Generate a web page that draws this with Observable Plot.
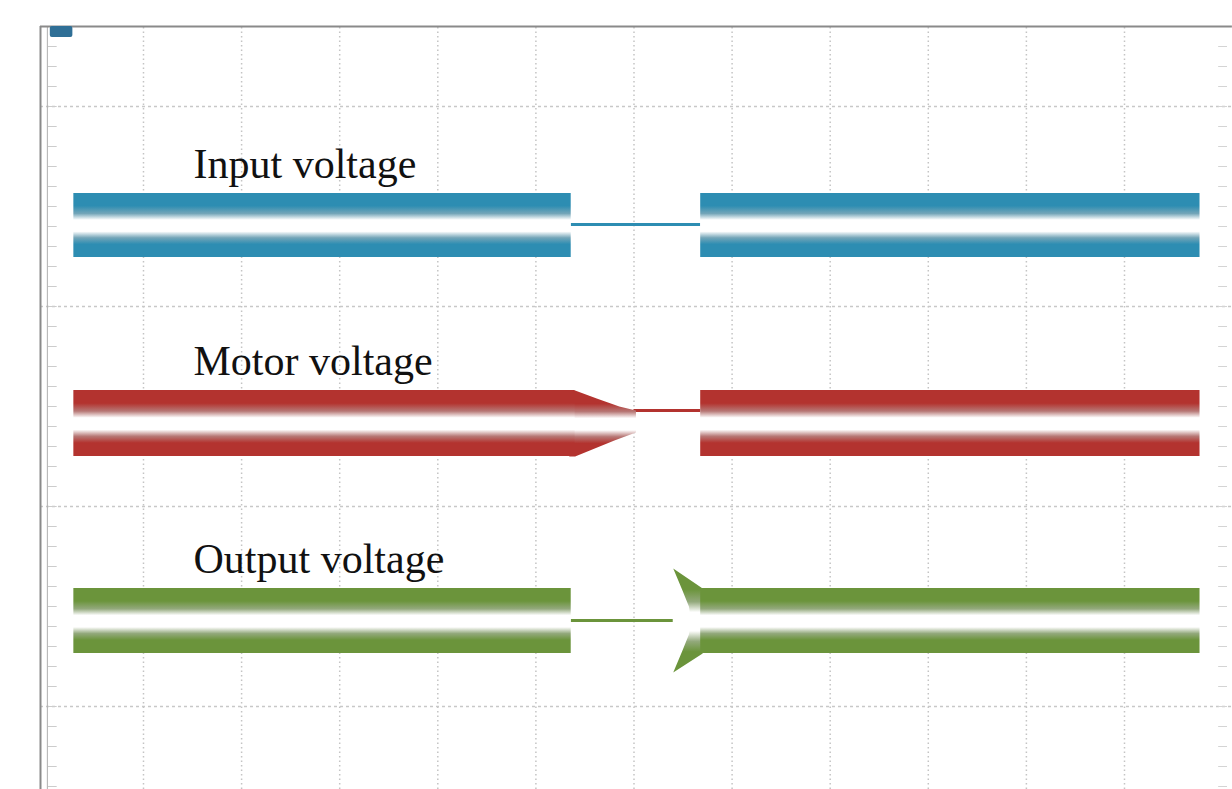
<!DOCTYPE html>
<html>
<head>
<meta charset="utf-8">
<script src="https://cdn.jsdelivr.net/npm/d3@7"></script>
<script src="https://cdn.jsdelivr.net/npm/@observablehq/plot@0.6"></script>
<style>
  html, body { margin: 0; padding: 0; background: #ffffff; }
  #chart svg { display: block; }
</style>
</head>
<body>
<div id="chart"></div>
<script>
// ---- data (x in time divisions, y in vertical divisions) ----
const series     = ["Input voltage", "Motor voltage", "Output voltage"];
const colors     = ["#2d8db2", "#b3332f", "#6b943b"];
const gradIds    = ["gIn", "gMotor", "gOut"];
const bandTop    = [5.13, 3.16, 1.18];
const bandBottom = [4.49, 2.50, 0.53];
const seg1Start  = [0.29, 0.29, 0.29];
const seg1End    = [5.36, 5.40, 5.36];
const seg2Start  = [6.68, 6.68, 6.68];
const seg2End    = [11.77, 11.77, 11.77];
const gapLevel   = [4.82, 2.96, 0.86];
const gapStart   = [5.36, 6.00, 5.36];
const gapEnd     = [6.68, 6.68, 6.40];
const labelX     = [1.51, 1.51, 1.51];
const labelY     = [5.29, 3.32, 1.34];

// motor voltage collapse (taper) outline
const motorTaperX = [5.34, 5.40, 5.62, 5.85, 6.02, 6.02, 5.80, 5.55, 5.40, 5.34];
const motorTaperY = [3.16, 3.16, 3.08, 3.00, 2.96, 2.74, 2.66, 2.56, 2.50, 2.50];
// output voltage restart (overshoot) outline
const outArrowX = [6.40, 6.70, 6.70, 6.40, 6.49, 6.56, 6.58, 6.56, 6.49];
const outArrowY = [1.38, 1.18, 0.53, 0.34, 0.55, 0.72, 0.86, 1.00, 1.17];

const vGrid = [1, 2, 3, 4, 5, 6, 7, 8, 9, 10, 11];
const hGrid = [0, 2, 4, 6];
const sideTicks = d3.range(-0.8, 6.81, 0.2);

// ---- build tables ----
const bands = [];
series.forEach((s, i) => {
  bands.push({s, i, x1: seg1Start[i], x2: seg1End[i], y1: bandBottom[i], y2: bandTop[i]});
  bands.push({s, i, x1: seg2Start[i], x2: seg2End[i], y1: bandBottom[i], y2: bandTop[i]});
});
const gaps = series.map((s, i) => ({s, i, x1: gapStart[i], x2: gapEnd[i], y: gapLevel[i], c: colors[i]}));
const labels = series.map((s, i) => ({s, x: labelX[i], y: labelY[i]}));
const taper = motorTaperX.map((x, k) => ({x, y: motorTaperY[k]}));
const arrow = outArrowX.map((x, k) => ({x, y: outArrowY[k]}));

const chart = Plot.plot({
  width: 1232,
  height: 789,
  margin: 0,
  x: {domain: [-0.4577, 12.101], axis: null},
  y: {domain: [-0.83, 7.06], axis: null},
  style: {background: "#ffffff"},
  marks: [
    // grid
    Plot.ruleX(vGrid, {y1: -0.83, y2: 6.8, stroke: "#c4c4c4", strokeWidth: 1.5, strokeDasharray: "1.5,3"}),
    Plot.ruleY(hGrid, {x1: -0.05, x2: 12.1, stroke: "#c8c8c8", strokeWidth: 1.5, strokeDasharray: "3,3"}),
    // side tick marks
    Plot.ruleY(sideTicks, {x1: 0.03, x2: 0.12, stroke: "#cccccc", strokeWidth: 1}),
    Plot.ruleY(sideTicks, {x1: 11.96, x2: 12.05, stroke: "#d4d4d4", strokeWidth: 1}),
    // frame
    Plot.ruleX([-0.05], {y1: -0.83, y2: 6.8, stroke: "#8a8a8a", strokeWidth: 2}),
    Plot.ruleX([0.02], {y1: -0.83, y2: 6.8, stroke: "#b0b0b0", strokeWidth: 1}),
    Plot.ruleY([6.8], {x1: -0.05, x2: 12.1, stroke: "#8a8a8a", strokeWidth: 2}),
    Plot.rect([{x1: 0.05, x2: 0.28, y1: 6.69, y2: 6.8}], {x1: "x1", x2: "x2", y1: "y1", y2: "y2", fill: "#2f6f96", rx: 2}),
    // gap lines
    Plot.ruleY(gaps, {x1: "x1", x2: "x2", y: "y", stroke: "c", strokeWidth: 3}),
    // motor taper
    Plot.line(taper, {x: "x", y: "y", fill: "url(#gMotor)", stroke: "none", curve: "linear-closed"}),
    // output overshoot shape
    Plot.line(arrow, {x: "x", y: "y", fill: "url(#gOut)", stroke: "none", curve: "linear-closed"}),
    // bands
    Plot.rect(bands.filter(d => d.i === 0), {x1: "x1", x2: "x2", y1: "y1", y2: "y2", fill: "url(#gIn)"}),
    Plot.rect(bands.filter(d => d.i === 1), {x1: "x1", x2: "x2", y1: "y1", y2: "y2", fill: "url(#gMotor)"}),
    Plot.rect(bands.filter(d => d.i === 2), {x1: "x1", x2: "x2", y1: "y1", y2: "y2", fill: "url(#gOut)"}),
    // labels
    Plot.text(labels, {x: "x", y: "y", text: "s", textAnchor: "start", lineAnchor: "bottom",
      fontFamily: "Liberation Serif, Times New Roman, serif", fontSize: 42, fill: "#111"})
  ]
});

// gradients for the bands (white trace centre, coloured edges)
const svg = chart.tagName.toLowerCase() === "svg" ? chart : chart.querySelector("svg");
const defs = d3.select(svg).insert("defs", ":first-child");
colors.forEach((c, i) => {
  const base = d3.color(c);
  const mid = d3.interpolateRgb(base.darker(0.5), "#e8ecec")(0.4);
  const g = defs.append("linearGradient").attr("id", gradIds[i])
    .attr("x1", 0).attr("y1", 0).attr("x2", 0).attr("y2", 1);
  [[0, c], [0.2, c], [0.32, mid], [0.42, "#ffffff"], [0.6, "#ffffff"], [0.7, mid], [0.8, c], [1, c]]
    .forEach(([o, col]) => g.append("stop").attr("offset", o).attr("stop-color", col));
});

document.getElementById("chart").appendChild(chart);
</script>
</body>
</html>
